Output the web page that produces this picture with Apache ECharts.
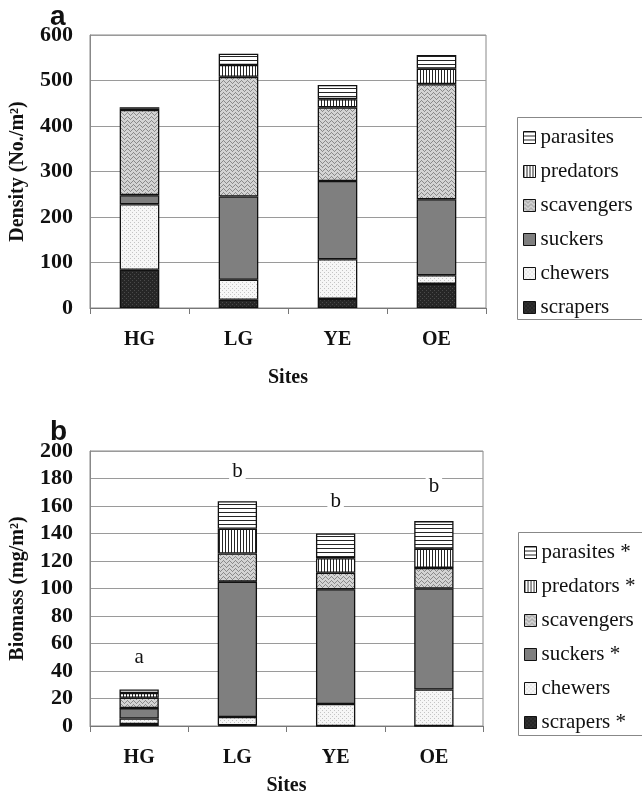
<!DOCTYPE html>
<html>
<head>
<meta charset="utf-8">
<script src="https://cdn.jsdelivr.net/npm/echarts@6/dist/echarts.min.js"></script>
<style>
  html, body { margin: 0; padding: 0; background: #fff; }
  #chart { width: 642px; height: 807px; }
</style>
</head>
<body>
<div id="chart"></div>
<script>
// Sites along the x axis
const sites = ['HG', 'LG', 'YE', 'OE'];

// Functional feeding groups, stacked bottom to top
const groups = ['scrapers', 'chewers', 'suckers', 'scavengers', 'predators', 'parasites'];

// (a) Density, No./m²
const densScrapers   = [84, 18, 20, 53];
const densChewers    = [144, 44, 87, 19];
const densSuckers    = [20, 183, 172, 167];
const densScavengers = [187, 263, 162, 253];
const densPredators  = [3, 26, 18, 34];
const densParasites  = [3, 25, 31, 30];

// (b) Biomass, mg/m²
const bioScrapers   = [1.5, 0.5, 0, 0];
const bioChewers    = [4, 6, 16, 26.5];
const bioSuckers    = [7.5, 98.5, 83.5, 73.5];
const bioScavengers = [7.5, 20.5, 12, 15];
const bioPredators  = [3.5, 18, 10.5, 14];
const bioParasites  = [2.5, 20, 18, 20];

// Legend names for (b); * marks groups that differ among sites
const bioNames = ['scrapers *', 'chewers', 'suckers *', 'scavengers', 'predators *', 'parasites *'];

// Significance letters above the biomass bars, and the heights they sit at
const sigLetters = ['a', 'b', 'b', 'b'];
const sigHeights = [50, 185, 163, 174];

const densTicks = { min: 0, max: 600, interval: 100 };
const bioTicks = { min: 0, max: 200, interval: 20 };

// ---- fill textures for each group ----
function makePattern(w, h, draw) {
  const c = document.createElement('canvas');
  c.width = w; c.height = h;
  const ctx = c.getContext('2d');
  draw(ctx, w, h);
  return { image: c, repeat: 'repeat' };
}
const fills = {
  scrapers: makePattern(4, 4, (ctx) => {
    ctx.fillStyle = '#262626'; ctx.fillRect(0, 0, 4, 4);
    ctx.fillStyle = '#4a4a4a';
    ctx.fillRect(0, 0, 1, 1); ctx.fillRect(2, 2, 1, 1);
  }),
  chewers: makePattern(4, 4, (ctx) => {
    ctx.fillStyle = '#f6f6f6'; ctx.fillRect(0, 0, 4, 4);
    ctx.fillStyle = '#c4c4c4';
    ctx.fillRect(0, 0, 1, 1); ctx.fillRect(2, 2, 1, 1);
  }),
  suckers: '#7f7f7f',
  scavengers: makePattern(6, 4, (ctx) => {
    ctx.fillStyle = '#d4d4d4'; ctx.fillRect(0, 0, 6, 4);
    ctx.fillStyle = '#8a8a8a';
    ctx.fillRect(0, 1, 1, 1); ctx.fillRect(1, 0, 1, 1); ctx.fillRect(2, 1, 1, 1);
    ctx.fillRect(3, 2, 1, 1); ctx.fillRect(4, 3, 1, 1); ctx.fillRect(5, 2, 1, 1);
  }),
  predators: makePattern(3, 3, (ctx) => {
    ctx.fillStyle = '#ffffff'; ctx.fillRect(0, 0, 3, 3);
    ctx.fillStyle = '#262626'; ctx.fillRect(0, 0, 1, 3);
  }),
  parasites: makePattern(4, 4, (ctx) => {
    ctx.fillStyle = '#ffffff'; ctx.fillRect(0, 0, 4, 4);
    ctx.fillStyle = '#262626'; ctx.fillRect(0, 0, 4, 1);
  })
};

const densData = [densScrapers, densChewers, densSuckers, densScavengers, densPredators, densParasites];
const bioData = [bioScrapers, bioChewers, bioSuckers, bioScavengers, bioPredators, bioParasites];

const serif = "'Liberation Serif', 'Times New Roman', serif";
const axisText = { fontFamily: serif, fontWeight: 'bold', fontSize: 20, color: '#111' };

function barSeries(name, group, data, idx, stack) {
  return {
    name: name,
    type: 'bar',
    stack: stack,
    xAxisIndex: idx,
    yAxisIndex: idx,
    barWidth: '40%',
    data: data,
    itemStyle: { color: fills[group], borderColor: '#111', borderWidth: 1.3 },
    emphasis: { disabled: true },
    animation: false
  };
}

const series = [];
groups.forEach((g, i) => series.push(barSeries(g, g, densData[i], 0, 'dens')));
groups.forEach((g, i) => series.push(barSeries(bioNames[i], g, bioData[i], 1, 'bio')));
series.push({
  type: 'scatter',
  xAxisIndex: 1,
  yAxisIndex: 1,
  symbolSize: 1,
  itemStyle: { color: 'rgba(0,0,0,0)', opacity: 1 },
  data: sites.map((s, i) => [s, sigHeights[i]]),
  label: {
    show: true,
    position: 'inside',
    formatter: (p) => sigLetters[p.dataIndex],
    fontFamily: serif,
    fontSize: 21,
    color: '#111',
    opacity: 1,
    textBorderWidth: 0,
    backgroundColor: '#fff',
    padding: [4, 3, 0, 3]
  },
  emphasis: { disabled: true },
  animation: false,
  z: 5
});

function xAxisDef(idx, gap) {
  return {
    type: 'category',
    gridIndex: idx,
    data: sites,
    name: 'Sites',
    nameLocation: 'middle',
    nameGap: gap,
    nameTextStyle: axisText,
    axisLine: { lineStyle: { color: '#777', width: 1 } },
    axisTick: { show: true, alignWithLabel: false, length: 6, lineStyle: { color: '#777' } },
    axisLabel: Object.assign({ margin: 22 }, axisText),
    splitLine: { show: false }
  };
}
function yAxisDef(idx, ticks, name) {
  return {
    type: 'value',
    gridIndex: idx,
    min: ticks.min,
    max: ticks.max,
    interval: ticks.interval,
    name: name,
    nameLocation: 'middle',
    nameGap: 62,
    nameTextStyle: axisText,
    axisLine: { show: true, lineStyle: { color: '#888' } },
    axisTick: { show: false },
    axisLabel: Object.assign({ margin: 17 }, axisText, { fontSize: 22 }),
    splitLine: { lineStyle: { color: '#9a9a9a', width: 1 } }
  };
}

const legendBase = {
  orient: 'vertical',
  icon: 'rect',
  itemWidth: 12,
  itemHeight: 12,
  itemGap: 13,
  padding: [10, 4, 2, 6],
  borderWidth: 0,
  itemStyle: { borderColor: '#111', borderWidth: 1 },
  textStyle: { fontFamily: serif, fontSize: 21, color: '#111', lineHeight: 20 },
  selectedMode: false
};

// Legend frames run past the right edge of the canvas
function legendFrame(x, y, h) {
  return {
    type: 'rect',
    shape: { x: x + 0.5, y: y + 0.5, width: 200, height: h },
    style: { fill: 'transparent', stroke: '#888', lineWidth: 1 },
    silent: true,
    z: 0
  };
}

const option = {
  backgroundColor: '#fff',
  animation: false,
  textStyle: { fontFamily: serif },
  grid: [
    { left: 90, top: 35, width: 396, height: 273, show: true, borderColor: '#888', borderWidth: 1, backgroundColor: 'transparent' },
    { left: 90, top: 451, width: 393, height: 275, show: true, borderColor: '#888', borderWidth: 1, backgroundColor: 'transparent' }
  ],
  xAxis: [xAxisDef(0, 60), xAxisDef(1, 50)],
  yAxis: [yAxisDef(0, densTicks, 'Density (No./m²)'), yAxisDef(1, bioTicks, 'Biomass (mg/m²)')],
  legend: [
    Object.assign({ left: 517, top: 117, data: groups.slice().reverse() }, legendBase),
    Object.assign({ left: 518, top: 532, data: bioNames.slice().reverse() }, legendBase)
  ],
  graphic: [
    { type: 'text', left: 50, top: 3, style: { text: 'a', fontFamily: 'Liberation Sans', fontWeight: 'bold', fontSize: 28, fill: '#111' } },
    { type: 'text', left: 50, top: 418, style: { text: 'b', fontFamily: 'Liberation Sans', fontWeight: 'bold', fontSize: 28, fill: '#111' } },
    legendFrame(517, 117, 202),
    legendFrame(518, 532, 203)
  ],
  series: series
};

const chart = echarts.init(document.getElementById('chart'), null, { renderer: 'canvas' });
chart.setOption(option);
</script>
</body>
</html>
